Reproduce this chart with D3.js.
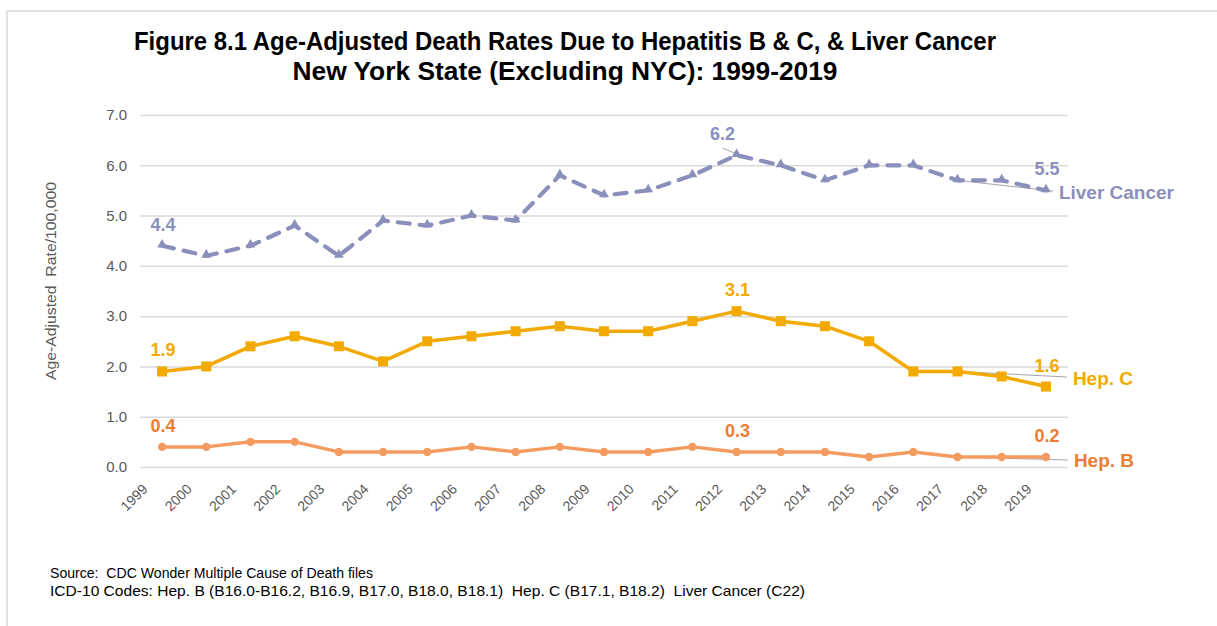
<!DOCTYPE html>
<html>
<head>
<meta charset="utf-8">
<script src="https://cdn.jsdelivr.net/npm/d3@7"></script>
<style>
  html, body { margin: 0; padding: 0; background: #fff; }
  svg { display: block; }
  text { font-family: "Liberation Sans", Arial, sans-serif; }
</style>
</head>
<body>
<div id="chart"></div>
<script>
// ---- data ----
const years = ["1999","2000","2001","2002","2003","2004","2005","2006","2007","2008","2009","2010","2011","2012","2013","2014","2015","2016","2017","2018","2019"];
const liverCancer = [4.4,4.2,4.4,4.8,4.2,4.9,4.8,5.0,4.9,5.8,5.4,5.5,5.8,6.2,6.0,5.7,6.0,6.0,5.7,5.7,5.5];
const hepC = [1.9,2.0,2.4,2.6,2.4,2.1,2.5,2.6,2.7,2.8,2.7,2.7,2.9,3.1,2.9,2.8,2.5,1.9,1.9,1.8,1.6];
const hepB = [0.4,0.4,0.5,0.5,0.3,0.3,0.3,0.4,0.3,0.4,0.3,0.3,0.4,0.3,0.3,0.3,0.2,0.3,0.2,0.2,0.2];
const yTicks = [0,1,2,3,4,5,6,7];
const seriesNames = ["Liver Cancer","Hep. C","Hep. B"];
const labeledYears = [["1999","2012","2019"],["1999","2012","2019"],["1999","2012","2019"]];
const titleLines = ["Figure 8.1 Age-Adjusted Death Rates Due to Hepatitis B & C, & Liver Cancer","New York State (Excluding NYC): 1999-2019"];
const yAxisTitle = "Age-Adjusted  Rate/100,000";
const footerLines = ["Source:  CDC Wonder Multiple Cause of Death files","ICD-10 Codes: Hep. B (B16.0-B16.2, B16.9, B17.0, B18.0, B18.1)  Hep. C (B17.1, B18.2)  Liver Cancer (C22)"];

// ---- layout ----
const W = 1217, H = 626;
const plot = {left: 140, right: 1068, top: 115, bottom: 467};
const colors = {liver: "#8B8FBC", hepC: "#F2A900", hepB: "#F49B60", hepBLabel: "#ED7D31", grid: "#D9D9D9", axisText: "#595959"};

const svg = d3.select("#chart").append("svg").attr("width", W).attr("height", H);

// frame
svg.append("line").attr("x1", 7).attr("x2", W).attr("y1", 11).attr("y2", 11).attr("stroke", "#D9D9D9").attr("stroke-width", 1.5);
svg.append("line").attr("x1", 7).attr("x2", 7).attr("y1", 11).attr("y2", H).attr("stroke", "#D9D9D9").attr("stroke-width", 1.5);

const x = d3.scalePoint().domain(years).range([plot.left, plot.right]).padding(0.5);
const y = d3.scaleLinear().domain([0, 7]).range([plot.bottom, plot.top]);

// title
const titleW = [862, 545];
titleLines.forEach((t, i) => {
  svg.append("text").attr("x", 565).attr("y", 50 + i * 30).attr("text-anchor", "middle")
    .attr("font-size", 25).attr("font-weight", "bold").attr("fill", "#000")
    .attr("textLength", titleW[i]).attr("lengthAdjust", "spacingAndGlyphs").text(t);
});

// gridlines + y axis
const yAxis = d3.axisLeft(y).tickValues(yTicks).tickFormat(d3.format(".1f")).tickSize(-(plot.right - plot.left)).tickPadding(13);
const gy = svg.append("g").attr("transform", `translate(${plot.left},0)`).call(yAxis);
gy.select(".domain").remove();
gy.selectAll(".tick line").attr("stroke", colors.grid).attr("stroke-width", 1.5);
gy.selectAll(".tick text").attr("fill", colors.axisText).attr("font-size", 15).attr("font-family", "Liberation Sans, Arial, sans-serif");

// x axis labels
const xAxis = d3.axisBottom(x).tickSize(0).tickPadding(0);
const gx = svg.append("g").attr("transform", `translate(0,${plot.bottom})`).call(xAxis);
gx.select(".domain").remove();
gx.selectAll(".tick text")
  .attr("fill", colors.axisText).attr("font-size", 14).attr("font-family", "Liberation Sans, Arial, sans-serif")
  .attr("text-anchor", "end").attr("dy", null)
  .attr("transform", "translate(-14,23) rotate(-45)");

// y axis title
svg.append("text").attr("transform", `translate(56,281) rotate(-90)`).attr("text-anchor", "middle")
  .attr("font-size", 15).attr("fill", colors.axisText).attr("textLength", 198).attr("lengthAdjust", "spacingAndGlyphs")
  .style("white-space", "pre").text(yAxisTitle);

// leader lines (drawn beneath series)
const leaders = [
  {vals: liverCancer, end: [1053, 191]},
  {vals: hepC, end: [1067, 377]},
  {vals: hepB, end: [1068, 460]}
];
const i2017 = years.indexOf("2017");
leaders.forEach(l => {
  svg.append("line").attr("x1", x(years[i2017])).attr("y1", y(l.vals[i2017]))
    .attr("x2", l.end[0]).attr("y2", l.end[1]).attr("stroke", "#A6A6A6").attr("stroke-width", 1);
});
// 6.2 leader
const i2012 = years.indexOf("2012");
svg.append("line").attr("x1", x("2012") - 14).attr("y1", y(liverCancer[i2012]) - 7)
  .attr("x2", x("2012") + 1).attr("y2", y(liverCancer[i2012]) - 1).attr("stroke", "#A6A6A6").attr("stroke-width", 1);

const line = d3.line().x((d, i) => x(years[i])).y(d => y(d));

// Hep B
svg.append("path").datum(hepB).attr("d", line).attr("fill", "none").attr("stroke", colors.hepB).attr("stroke-width", 3.5).attr("stroke-linejoin", "round");
svg.selectAll(".mB").data(hepB).enter().append("circle").attr("cx", (d, i) => x(years[i])).attr("cy", d => y(d)).attr("r", 4.2).attr("fill", colors.hepB);

// Hep C
svg.append("path").datum(hepC).attr("d", line).attr("fill", "none").attr("stroke", colors.hepC).attr("stroke-width", 3.5).attr("stroke-linejoin", "round");
svg.selectAll(".mC").data(hepC).enter().append("rect").attr("x", (d, i) => x(years[i]) - 5).attr("y", d => y(d) - 5).attr("width", 10).attr("height", 10).attr("fill", colors.hepC);

// Liver cancer
svg.append("path").datum(liverCancer).attr("d", line).attr("fill", "none").attr("stroke", colors.liver).attr("stroke-width", 4.2)
  .attr("stroke-dasharray", "12,10").attr("stroke-linecap", "round").attr("stroke-linejoin", "round");
const tri = d3.symbol().type(d3.symbolTriangle).size(42);
svg.selectAll(".mL").data(liverCancer).enter().append("path").attr("d", tri)
  .attr("transform", (d, i) => `translate(${x(years[i])},${y(d) - 1})`).attr("fill", colors.liver);

// data labels
const labelSeries = [
  {vals: liverCancer, color: colors.liver},
  {vals: hepC, color: colors.hepC},
  {vals: hepB, color: colors.hepBLabel}
];
labelSeries.forEach((s, k) => {
  labeledYears[k].forEach(yr => {
    const i = years.indexOf(yr);
    const dx = (k === 0 && yr === "2012") ? -14 : 1;
    svg.append("text").attr("x", x(yr) + dx).attr("y", y(s.vals[i]) - 15).attr("text-anchor", "middle")
      .attr("font-size", 18).attr("font-weight", "bold").attr("fill", s.color).text(d3.format(".1f")(s.vals[i]));
  });
});

// series name labels
const iLast = years.length - 1;
const nameOffsets = [[13, 9], [27, -1.5], [28, 10]];
labelSeries.forEach((s, k) => {
  svg.append("text").attr("x", x(years[iLast]) + nameOffsets[k][0]).attr("y", y(s.vals[iLast]) + nameOffsets[k][1])
    .attr("font-size", 19).attr("font-weight", "bold").attr("fill", s.color).text(seriesNames[k]);
});

// footer
const footW = [323, 755];
footerLines.forEach((t, i) => {
  svg.append("text").attr("x", 50).attr("y", 578 + i * 18).attr("font-size", 15).attr("fill", "#000")
    .attr("textLength", footW[i]).attr("lengthAdjust", "spacingAndGlyphs").style("white-space", "pre").text(t);
});
</script>
</body>
</html>
